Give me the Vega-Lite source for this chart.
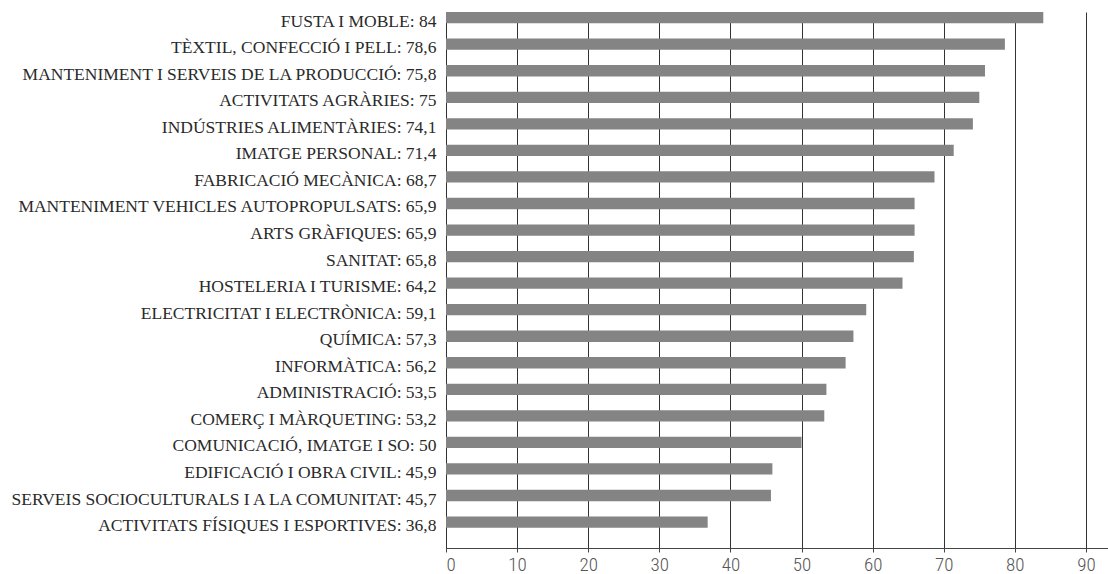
{
  "$schema": "https://vega.github.io/schema/vega-lite/v6.json",
  "width": 662,
  "height": 536,
  "autosize": {"type": "none"},
  "padding": {"left": 446, "top": 12, "right": 0, "bottom": 26},
  "background": "white",
  "data": {
    "values": [
      {"label": "FUSTA I MOBLE: 84", "value": 84},
      {"label": "TÈXTIL, CONFECCIÓ I PELL: 78,6", "value": 78.6},
      {"label": "MANTENIMENT I SERVEIS DE LA PRODUCCIÓ: 75,8", "value": 75.8},
      {"label": "ACTIVITATS AGRÀRIES: 75", "value": 75},
      {"label": "INDÚSTRIES ALIMENTÀRIES: 74,1", "value": 74.1},
      {"label": "IMATGE PERSONAL: 71,4", "value": 71.4},
      {"label": "FABRICACIÓ MECÀNICA: 68,7", "value": 68.7},
      {"label": "MANTENIMENT VEHICLES AUTOPROPULSATS: 65,9", "value": 65.9},
      {"label": "ARTS GRÀFIQUES: 65,9", "value": 65.9},
      {"label": "SANITAT: 65,8", "value": 65.8},
      {"label": "HOSTELERIA I TURISME: 64,2", "value": 64.2},
      {"label": "ELECTRICITAT I ELECTRÒNICA: 59,1", "value": 59.1},
      {"label": "QUÍMICA: 57,3", "value": 57.3},
      {"label": "INFORMÀTICA: 56,2", "value": 56.2},
      {"label": "ADMINISTRACIÓ: 53,5", "value": 53.5},
      {"label": "COMERÇ I MÀRQUETING: 53,2", "value": 53.2},
      {"label": "COMUNICACIÓ, IMATGE I SO: 50", "value": 50},
      {"label": "EDIFICACIÓ I OBRA CIVIL: 45,9", "value": 45.9},
      {"label": "SERVEIS SOCIOCULTURALS I A LA COMUNITAT: 45,7", "value": 45.7},
      {"label": "ACTIVITATS FÍSIQUES I ESPORTIVES: 36,8", "value": 36.8}
    ]
  },
  "mark": {"type": "bar", "color": "#848484"},
  "encoding": {
    "y": {
      "field": "label",
      "type": "nominal",
      "sort": null,
      "scale": {"paddingInner": 0.574, "paddingOuter": 0.382, "align": 0},
      "axis": {
        "title": null,
        "ticks": false,
        "grid": false,
        "domain": true,
        "domainColor": "#333333",
        "domainWidth": 1,
        "labelFont": "Liberation Serif",
        "labelFontSize": 17.5,
        "labelColor": "#2a2a2a",
        "labelPadding": 10,
        "labelOffset": 4,
        "labelLimit": 600
      }
    },
    "x": {
      "field": "value",
      "type": "quantitative",
      "scale": {"domain": [0, 93.1], "nice": false, "zero": true},
      "axis": {
        "title": null,
        "values": [0, 10, 20, 30, 40, 50, 60, 70, 80, 90],
        "grid": true,
        "gridColor": "#333333",
        "gridWidth": 1,
        "gridOpacity": 1,
        "domain": true,
        "domainColor": "#444444",
        "domainWidth": 1,
        "ticks": true,
        "tickColor": "#444444",
        "tickSize": 4,
        "labelFont": "Liberation Sans Narrow, Roboto Condensed, DejaVu Sans Condensed, sans-serif",
        "labelFontSize": 19,
        "labelFontWeight": 300,
        "labelColor": "#555555",
        "labelPadding": 3
      }
    }
  },
  "config": {"view": {"stroke": null}}
}
